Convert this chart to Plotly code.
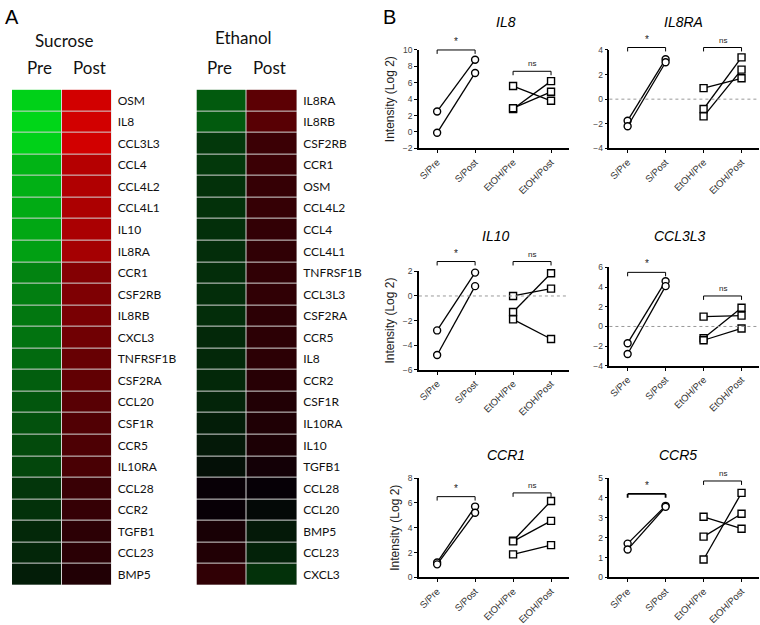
import plotly.graph_objects as go

# ---- panel A: heatmaps (green = low, red = high) ----
sucrose_genes = ["OSM", "IL8", "CCL3L3", "CCL4", "CCL4L2", "CCL4L1", "IL10", "IL8RA",
                 "CCR1", "CSF2RB", "IL8RB", "CXCL3", "TNFRSF1B", "CSF2RA", "CCL20",
                 "CSF1R", "CCR5", "IL10RA", "CCL28", "CCR2", "TGFB1", "CCL23", "BMP5"]
sucrose_pre = [-0.93, -0.95, -0.93, -0.80, -0.78, -0.76, -0.74, -0.71, -0.58, -0.56,
               -0.53, -0.51, -0.47, -0.42, -0.38, -0.36, -0.33, -0.31, -0.24, -0.22,
               -0.18, -0.17, -0.13]
sucrose_post = [0.93, 0.93, 0.93, 0.80, 0.78, 0.76, 0.75, 0.73, 0.58, 0.55, 0.53, 0.49,
                0.45, 0.42, 0.38, 0.35, 0.33, 0.31, 0.24, 0.22, 0.18, 0.17, 0.13]

ethanol_genes = ["IL8RA", "IL8RB", "CSF2RB", "CCR1", "OSM", "CCL4L2", "CCL4", "CCL4L1",
                 "TNFRSF1B", "CCL3L3", "CSF2RA", "CCR5", "IL8", "CCR2", "CSF1R", "IL10RA",
                 "IL10", "TGFB1", "CCL28", "CCL20", "BMP5", "CCL23", "CXCL3"]
ethanol_pre = [-0.40, -0.40, -0.25, -0.25, -0.22, -0.22, -0.21, -0.20, -0.20, -0.20,
               -0.20, -0.18, -0.18, -0.18, -0.16, -0.13, -0.11, -0.07, 0.02, 0.02,
               0.09, 0.13, 0.20]
ethanol_post = [0.40, 0.38, 0.25, 0.25, 0.22, 0.22, 0.21, 0.20, 0.20, 0.20, 0.18, 0.18,
                0.18, 0.16, 0.13, 0.12, 0.11, 0.07, 0.01, -0.04, -0.11, -0.15, -0.22]

# ---- panel B: paired intensities (Log 2) ----
groups = ["S/Pre", "S/Post", "EtOH/Pre", "EtOH/Post"]

il8_s_pre = [2.5, -0.1]
il8_s_post = [8.8, 7.2]
il8_e_pre = [5.6, 2.8, 2.9]
il8_e_post = [3.8, 6.2, 4.9]

il8ra_s_pre = [-1.75, -2.2]
il8ra_s_post = [3.25, 3.0]
il8ra_e_pre = [0.9, -0.8, -1.4]
il8ra_e_post = [1.7, 3.4, 2.4]

il10_s_pre = [-2.8, -4.8]
il10_s_post = [1.9, 0.8]
il10_e_pre = [0.0, -1.3, -1.9]
il10_e_post = [0.6, 1.85, -3.5]

ccl3l3_s_pre = [-1.7, -2.8]
ccl3l3_s_post = [4.6, 4.1]
ccl3l3_e_pre = [1.0, -1.2, -1.4]
ccl3l3_e_post = [1.1, 1.9, -0.2]

ccr1_s_pre = [1.2, 1.05]
ccr1_s_post = [5.7, 5.2]
ccr1_e_pre = [2.95, 2.9, 1.85]
ccr1_e_post = [6.15, 4.55, 2.6]

ccr5_s_pre = [1.7, 1.4]
ccr5_s_post = [3.6, 3.55]
ccr5_e_pre = [3.05, 2.05, 0.9]
ccr5_e_post = [2.45, 3.2, 4.25]

W, H = 760, 625
SANS = "Liberation Sans, Arial, sans-serif"
CAL = "Lato, Open Sans, sans-serif"


def dx(a, b):
    return [a / W, b / W]


def dy(top, bottom):
    return [1 - bottom / H, 1 - top / H]


def label(text, x, y, size, family=SANS, color="black"):
    return dict(text=text, x=x / W, y=1 - y / H, xref="paper", yref="paper",
                xanchor="center", yanchor="middle", showarrow=False,
                font=dict(family=family, size=size, color=color))


fig = go.Figure()
layout = dict(width=W, height=H, margin=dict(l=0, r=0, t=0, b=0),
              paper_bgcolor="white", plot_bgcolor="white", showlegend=False)
shapes = []
annotations = []

scale = [[0, "rgb(0,225,25)"], [0.5, "rgb(4,0,6)"], [1, "rgb(225,0,0)"]]
heatmaps = [
    (sucrose_genes, sucrose_pre, sucrose_post, (10, 110), "Sucrose", 62, 36, (38, 88)),
    (ethanol_genes, ethanol_pre, ethanol_post, (195, 296), "Ethanol", 242, 33, (218, 268)),
]
for k, (genes, pre, post, (x0, x1), name, nx, ny, (px, qx)) in enumerate(heatmaps):
    n = "" if k == 0 else str(k + 1)
    fig.add_trace(go.Heatmap(
        z=[[a, b] for a, b in zip(pre, post)], x=["Pre", "Post"], y=genes,
        colorscale=scale, zmin=-1, zmax=1, showscale=False, xgap=1, ygap=1,
        xaxis="x" + n, yaxis="y" + n, hoverinfo="skip"))
    layout["xaxis" + n] = dict(domain=dx(x0, x1), anchor="y" + n, showticklabels=False,
                               showgrid=False, zeroline=False, showline=False)
    layout["yaxis" + n] = dict(domain=dy(86, 590), anchor="x" + n, side="right",
                               autorange="reversed", showgrid=False, zeroline=False,
                               ticks="", ticklabelstandoff=5,
                               tickfont=dict(family=CAL, size=12, color="#111"))
    shapes.append(dict(type="rect", xref="x%s domain" % n, yref="y%s domain" % n,
                       x0=0.003, x1=0.997, y0=0.001, y1=0.999, layer="below",
                       fillcolor="#d4d4d4", line=dict(width=0)))
    annotations.append(label(name, nx, ny, 17, CAL, "#111"))
    annotations.append(label("Pre", px, 64, 17, CAL, "#111"))
    annotations.append(label("Post", qx, 64, 17, CAL, "#111"))

annotations.append(label("A", 10, 12, 20))
annotations.append(label("B", 389, 12, 20))

panels = [
    ("IL8", il8_s_pre, il8_s_post, il8_e_pre, il8_e_post, [-2, 10], 2, 10, 7.4, False,
     (418, 568), (45.7, 145.7), (505, 17), True),
    ("IL8RA", il8ra_s_pre, il8ra_s_post, il8ra_e_pre, il8ra_e_post, [-4, 4], 2, 4.2, 4.2, True,
     (609, 759), (45.7, 145.7), (683, 17), False),
    ("IL10", il10_s_pre, il10_s_post, il10_e_pre, il10_e_post, [-6, 2], 2, 2.8, 2.8, True,
     (418, 568), (270.7, 370.7), (495, 235), True),
    ("CCL3L3", ccl3l3_s_pre, ccl3l3_s_post, ccl3l3_e_pre, ccl3l3_e_post, [-4, 6], 2, 5.5, 3.1,
     True, (609, 759), (266.7, 366.7), (680, 235), False),
    ("CCR1", ccr1_s_pre, ccr1_s_post, ccr1_e_pre, ccr1_e_post, [0, 8], 2, 6.5, 6.8, False,
     (418, 568), (480.7, 581.7), (505, 457), True),
    ("CCR5", ccr5_s_pre, ccr5_s_post, ccr5_e_pre, ccr5_e_post, [0, 5], 1, 4.2, 4.85, False,
     (609, 759), (480.7, 581.7), (678, 457), False),
]


def frac(v, rng):
    return (v - rng[0]) / (rng[1] - rng[0])


for i, (title, sp, so, ep, eo, rng, dt, star_y, ns_y, zero, xs, ys, tpos, ylab) in enumerate(panels):
    n = str(i + 3)
    xa, ya = "x" + n, "y" + n
    for a, b in zip(sp, so):
        fig.add_trace(go.Scatter(
            x=groups[:2], y=[a, b], xaxis=xa, yaxis=ya, mode="lines+markers", cliponaxis=False,
            line=dict(color="black", width=1.3), hoverinfo="skip",
            marker=dict(symbol="circle", size=7, color="white", line=dict(color="black", width=1.4))))
    for a, b in zip(ep, eo):
        fig.add_trace(go.Scatter(
            x=groups[2:], y=[a, b], xaxis=xa, yaxis=ya, mode="lines+markers", cliponaxis=False,
            line=dict(color="black", width=1.3), hoverinfo="skip",
            marker=dict(symbol="square", size=7, color="white", line=dict(color="black", width=1.4))))
    layout["xaxis" + n] = dict(
        domain=dx(*xs), anchor=ya, type="category", categoryarray=groups, range=[-0.48, 3.46],
        showline=True, linecolor="black", linewidth=1.5, ticks="outside", ticklen=3,
        tickcolor="black", tickangle=-45, showgrid=False, zeroline=False,
        tickfont=dict(family=SANS, size=9.5, color="#333"))
    yax = dict(domain=dy(*ys), anchor=xa, range=rng, dtick=dt, showline=True, linecolor="black",
               linewidth=1.5, ticks="outside", ticklen=3, tickcolor="black", showgrid=False,
               zeroline=False, tickfont=dict(family=SANS, size=8.5, color="#444"))
    if ylab:
        yax["title"] = dict(text="Intensity (Log 2)", standoff=6,
                            font=dict(family=SANS, size=12, color="#222"))
    layout["yaxis" + n] = yax
    if zero:
        shapes.append(dict(type="line", xref=xa + " domain", yref=ya, x0=0, x1=1, y0=0, y1=0,
                           line=dict(color="#999", width=1, dash="dot")))
    hpx = ys[1] - ys[0]
    for (c0, c1), by, txt, fs in (((0, 1), star_y, "*", 10), ((2, 3), ns_y, "ns", 8)):
        f = frac(by, rng)
        drop = 4 / hpx
        lw = 1.8 if title == "CCR5" and txt == "*" else 1
        shapes.append(dict(type="line", xref=xa, yref=ya + " domain", x0=c0, x1=c1, y0=f, y1=f,
                           line=dict(color="black", width=lw)))
        for c in (c0, c1):
            shapes.append(dict(type="line", xref=xa, yref=ya + " domain", x0=c, x1=c, y0=f,
                               y1=f - drop, line=dict(color="black", width=lw)))
        annotations.append(dict(text=txt, xref=xa, yref=ya + " domain", x=(c0 + c1) / 2, y=f,
                                xanchor="center", yanchor="bottom", yshift=1, showarrow=False,
                                font=dict(family=SANS, size=fs, color="#222")))
    annotations.append(label("<i>%s</i>" % title, tpos[0], tpos[1], 14))

layout["shapes"] = shapes
layout["annotations"] = annotations
fig.update_layout(**layout)
# plotly's page keeps the browser's default 8px body margin; drop it
fig.write_html("out.html", config={"displayModeBar": False},
               post_script="document.body.style.margin = '0'; document.body.style.overflow = 'hidden';")
